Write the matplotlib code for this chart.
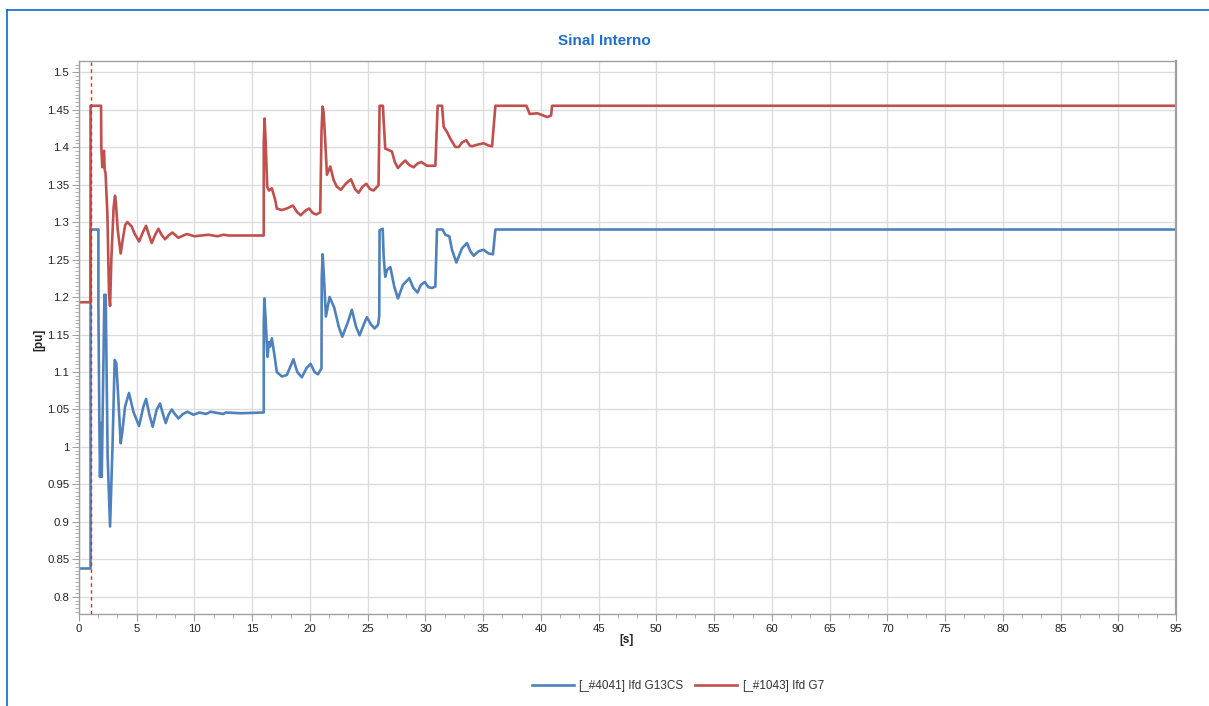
import matplotlib
matplotlib.use("Agg")
import matplotlib.pyplot as plt
from matplotlib.ticker import MultipleLocator, FuncFormatter
from matplotlib.lines import Line2D

plt.rcParams['font.family'] = ['Liberation Sans', 'DejaVu Sans']

title = "Sinal Interno"
x_label = "[s]"
y_label = "[pu]"
event_time = 1.0

name_g13 = "[_#4041] Ifd G13CS"
t_g13 = [0, 1.0, 1.0, 1.68, 1.68, 1.76, 1.82, 1.91, 1.97, 2.2, 2.25, 2.31, 2.48, 2.69,
         2.9, 3.09, 3.23, 3.41, 3.61, 3.75, 3.99, 4.33, 4.71, 5.2, 5.58, 5.81, 6.1, 6.38,
         6.73, 7.02, 7.25, 7.51, 7.75, 8.03, 8.3, 8.61, 9.0, 9.39, 9.91, 10.43, 11.0, 11.4,
         12.5, 12.7, 14.0, 16.0,
         16.0, 16.05, 16.15, 16.32, 16.45, 16.55, 16.7, 16.95, 17.13, 17.57, 18.0, 18.57,
         18.9, 19.3, 19.7, 20.05, 20.4, 20.7, 21.0,
         21.02, 21.1, 21.2, 21.38, 21.7, 22.1, 22.5, 22.8, 23.25, 23.63, 24.0, 24.3, 24.65,
         24.93, 25.3, 25.6, 25.9, 26.0,
         26.03, 26.3, 26.38, 26.52, 26.67, 26.96, 27.3, 27.62, 28.05, 28.6, 28.96, 29.32,
         29.6, 29.93, 30.27, 30.57, 30.86,
         31.0, 31.49, 31.72, 32.07, 32.3, 32.68, 33.17, 33.6, 33.89, 34.18, 34.6, 35.04,
         35.47, 35.85,
         36.06, 95]
v_g13 = [0.838, 0.838, 1.29, 1.29, 1.187, 1.036, 0.960, 1.032, 0.960, 1.203, 1.17, 1.203,
         0.987, 0.894, 1.0, 1.116, 1.112, 1.063, 1.005, 1.02, 1.054, 1.072, 1.047, 1.028,
         1.054, 1.064, 1.043, 1.027, 1.050, 1.058, 1.045, 1.032, 1.043, 1.050, 1.044, 1.038,
         1.044, 1.047, 1.043, 1.046, 1.044, 1.047, 1.044, 1.046, 1.045, 1.046,
         1.163, 1.198, 1.174, 1.120, 1.140, 1.134, 1.145, 1.120, 1.100, 1.094, 1.096, 1.117,
         1.100, 1.093, 1.105, 1.111, 1.100, 1.097, 1.105,
         1.225, 1.257, 1.230, 1.174, 1.200, 1.186, 1.160, 1.147, 1.165, 1.183, 1.160, 1.149,
         1.163, 1.173, 1.163, 1.158, 1.163, 1.175,
         1.289, 1.291, 1.255, 1.227, 1.236, 1.240, 1.214, 1.198, 1.216, 1.225, 1.212, 1.206,
         1.216, 1.220, 1.213, 1.212, 1.214,
         1.290, 1.290, 1.283, 1.281, 1.263, 1.246, 1.265, 1.272, 1.261, 1.255, 1.261, 1.263,
         1.258, 1.257,
         1.290, 1.290]

name_g7 = "[_#1043] Ifd G7"
t_g7 = [0, 1.0, 1.0, 1.91, 1.93, 2.02, 2.1, 2.17, 2.22, 2.3, 2.46, 2.55, 2.6, 2.69, 2.8,
        3.0, 3.12, 3.2, 3.35, 3.61, 3.8, 4.0, 4.19, 4.56, 4.8, 5.2, 5.55, 5.81, 6.05, 6.3,
        6.6, 6.88, 7.15, 7.45, 7.75, 8.09, 8.6, 9.33, 10.0, 10.6, 11.2, 12.0, 12.5, 13.0,
        16.0,
        16.0, 16.07, 16.15, 16.3, 16.45, 16.7, 17.0, 17.13, 17.57, 18.0, 18.52, 18.9, 19.2,
        19.6, 19.93, 20.25, 20.54, 20.89,
        21.0, 21.09, 21.18, 21.32, 21.47, 21.76, 22.05, 22.33, 22.68, 23.1, 23.55, 23.9,
        24.21, 24.55, 24.88, 25.2, 25.51, 25.94,
        26.03, 26.32, 26.38, 26.52, 27.1, 27.35, 27.62, 27.97, 28.26, 28.6, 28.98, 29.32,
        29.64, 30.14, 30.86,
        31.06, 31.44, 31.58, 31.87, 32.16, 32.59, 32.88, 33.17, 33.54, 33.83, 34.04, 34.47,
        35.04, 35.47, 35.77,
        36.06, 38.75, 39.03, 39.7, 40.54, 40.88, 40.97, 95]
v_g7 = [1.193, 1.193, 1.455, 1.455, 1.40, 1.373, 1.39, 1.395, 1.37, 1.365, 1.31, 1.24,
        1.205, 1.188, 1.25, 1.32, 1.335, 1.325, 1.29, 1.258, 1.278, 1.296, 1.300, 1.294,
        1.285, 1.274, 1.287, 1.295, 1.283, 1.272, 1.283, 1.291, 1.283, 1.277, 1.282, 1.286,
        1.279, 1.284, 1.281, 1.282, 1.283, 1.281, 1.283, 1.282, 1.282,
        1.405, 1.438, 1.412, 1.347, 1.342, 1.345, 1.329, 1.318, 1.316, 1.318, 1.322, 1.313,
        1.309, 1.315, 1.318, 1.312, 1.310, 1.313,
        1.420, 1.454, 1.447, 1.409, 1.363, 1.374, 1.356, 1.347, 1.343, 1.351, 1.357, 1.344,
        1.339, 1.347, 1.351, 1.344, 1.342, 1.349,
        1.455, 1.455, 1.436, 1.398, 1.394, 1.380, 1.372, 1.378, 1.382, 1.376, 1.373, 1.378,
        1.380, 1.375, 1.375,
        1.455, 1.455, 1.427, 1.420, 1.411, 1.400, 1.400, 1.406, 1.409, 1.402, 1.401, 1.403,
        1.405, 1.402, 1.401,
        1.455, 1.455, 1.444, 1.445, 1.440, 1.442, 1.455, 1.455]

blue = "#4f81bd"
red = "#c0504d"
spine_gray = "#a0a0a0"
grid_gray = "#dcdcdc"

fig = plt.figure(figsize=(12.09, 7.06), dpi=100)
ax = fig.add_axes([79 / 1209, 1 - 614 / 706, (1176 - 79) / 1209, (614 - 61) / 706])

ax.plot(t_g13, v_g13, color=blue, lw=1.9, label=name_g13)
ax.plot(t_g7, v_g7, color=red, lw=1.9, label=name_g7)
ax.axvline(event_time, color="#ff1a1a", lw=1.0, ls=(0, (2.5, 2.5)), zorder=3)

ax.set_xlim(0, 95)
ax.set_ylim(0.7773, 1.5147)
ax.xaxis.set_major_locator(MultipleLocator(5))
ax.xaxis.set_minor_locator(MultipleLocator(5 / 3))
ax.yaxis.set_major_locator(MultipleLocator(0.05))
ax.yaxis.set_minor_locator(MultipleLocator(0.005))


def fmt(v, pos):
    return f"{v:.2f}".rstrip("0").rstrip(".")


ax.yaxis.set_major_formatter(FuncFormatter(fmt))
ax.xaxis.set_major_formatter(FuncFormatter(lambda v, p: f"{v:.0f}"))

ax.grid(True, which="major", color=grid_gray, lw=1.0)
ax.set_axisbelow(True)
for side in ["left", "bottom", "top", "right"]:
    ax.spines[side].set_color(spine_gray)
    ax.spines[side].set_linewidth(1.0)
ax.spines["right"].set_linewidth(1.6)

ax.tick_params(axis="both", which="major", length=5, color=spine_gray, labelsize=8.2,
               labelcolor="#222222", pad=2)
ax.tick_params(axis="both", which="minor", length=3, color=spine_gray)

fig.text(604 / 1209, 1 - 41 / 706, title, ha="center", va="center", fontsize=11,
         fontweight="bold", color="#1f6fc5")
fig.text(627 / 1209, 1 - 640 / 706, x_label, ha="center", va="center", fontsize=8.5,
         fontweight="bold", color="#222222")
fig.text(39 / 1209, 1 - 340 / 706, y_label, ha="center", va="center", fontsize=8.5,
         fontweight="bold", color="#222222", rotation=90)

fig.legend(loc="center", bbox_to_anchor=(678 / 1209, 1 - 686 / 706), ncol=2,
           frameon=False, fontsize=8.5, handlelength=3.5, columnspacing=1.0,
           handletextpad=0.5, labelcolor="#333333")

# outer frame (top and left edges)
fig.add_artist(Line2D([7 / 1209, 1.0], [1 - 10 / 706, 1 - 10 / 706],
                      transform=fig.transFigure, color="#0a6ad0", lw=1.2))
fig.add_artist(Line2D([7 / 1209, 7 / 1209], [0.0, 1 - 10 / 706],
                      transform=fig.transFigure, color="#0a6ad0", lw=1.2))

fig.savefig("out.png", dpi=100)
